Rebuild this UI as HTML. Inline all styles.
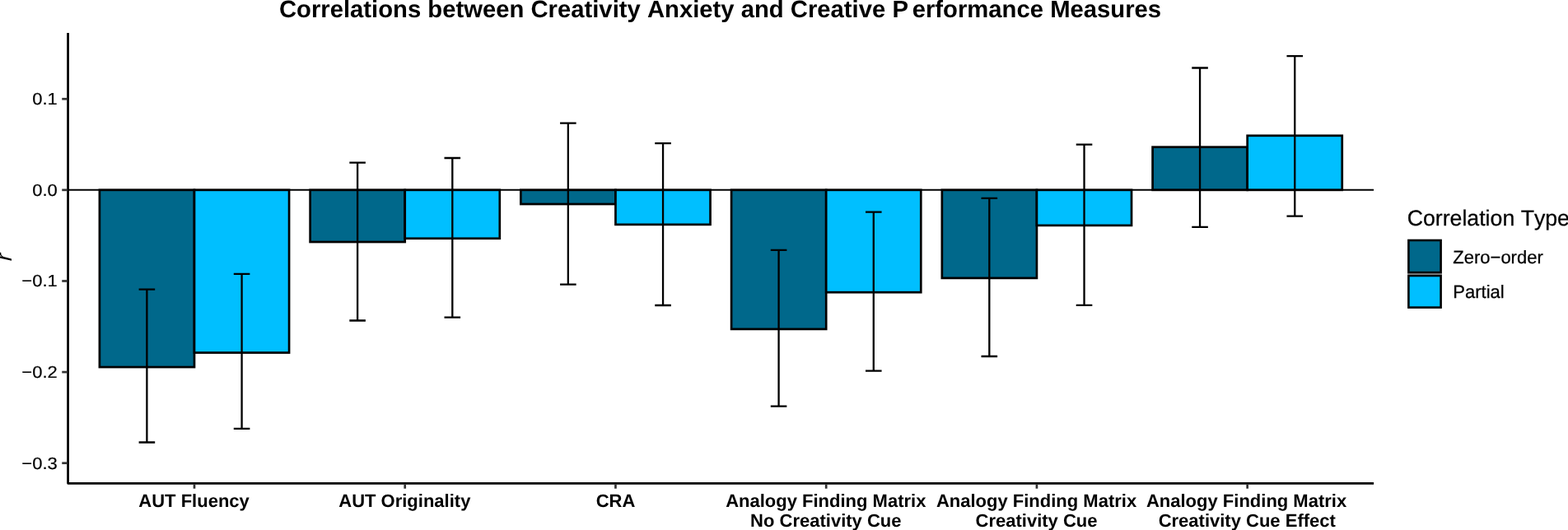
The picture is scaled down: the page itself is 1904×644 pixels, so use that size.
<!DOCTYPE html>
<html lang="en"><head><meta charset="utf-8"><title>Correlations between Creativity Anxiety and Creative Performance Measures</title>
<style>
html,body{margin:0;padding:0;background:#fff;}
body{width:1904px;height:644px;overflow:hidden;}
svg{display:block;font-kerning:none;text-rendering:geometricPrecision;font-family:"Liberation Sans",Arial,Helvetica,sans-serif;}
.t{font-weight:bold;font-size:29.25px;fill:#000;}
.xl{font-weight:bold;font-size:22px;fill:#000;text-anchor:middle;}
.yl{font-size:22px;fill:#000;text-anchor:end;stroke:#000;stroke-width:0.2px;}
.lg{font-size:22px;fill:#000;stroke:#000;stroke-width:0.25px;}
.lt{font-size:26.7px;fill:#000;stroke:#000;stroke-width:0.25px;}
.bar{stroke:#000;stroke-width:2.7;stroke-linejoin:miter;}
.eb{stroke:#000;stroke-width:2.3;fill:none;}
.ax{stroke:#000;stroke-width:2.7;fill:none;stroke-linecap:butt;}
.tk{stroke:#333;stroke-width:2.7;fill:none;}
</style></head><body>
<svg width="1904" height="644" viewBox="0 0 1904 644">
<rect width="1904" height="644" fill="#fff"/>
<text class="t" x="338.9" y="20.5">Correlations between Creativity Anxiety and Creative P<tspan dx="4.8">erformance Measures</tspan></text>
<rect class="bar" x="120.91" y="230.85" width="115.08" height="215.20" fill="#00688B"/>
<rect class="bar" x="235.99" y="230.85" width="115.08" height="197.70" fill="#00BFFF"/>
<rect class="bar" x="376.64" y="230.85" width="115.08" height="63.15" fill="#00688B"/>
<rect class="bar" x="491.72" y="230.85" width="115.08" height="58.90" fill="#00BFFF"/>
<rect class="bar" x="632.38" y="230.85" width="115.08" height="17.15" fill="#00688B"/>
<rect class="bar" x="747.46" y="230.85" width="115.08" height="42.00" fill="#00BFFF"/>
<rect class="bar" x="888.11" y="230.85" width="115.08" height="169.05" fill="#00688B"/>
<rect class="bar" x="1003.19" y="230.85" width="115.08" height="124.35" fill="#00BFFF"/>
<rect class="bar" x="1143.85" y="230.85" width="115.08" height="107.05" fill="#00688B"/>
<rect class="bar" x="1258.93" y="230.85" width="115.08" height="43.05" fill="#00BFFF"/>
<rect class="bar" x="1399.58" y="178.70" width="115.08" height="52.15" fill="#00688B"/>
<rect class="bar" x="1514.66" y="164.80" width="115.08" height="66.05" fill="#00BFFF"/>
<line x1="82.55" x2="1668.1" y1="230.85" y2="230.85" stroke="#000" stroke-width="2"/>
<path class="eb" d="M168.59 351.60H188.19M178.39 351.60V537.50M168.59 537.50H188.19"/>
<path class="eb" d="M283.79 332.80H303.39M293.59 332.80V520.80M283.79 520.80H303.39"/>
<path class="eb" d="M424.32 197.70H443.92M434.12 197.70V389.50M424.32 389.50H443.92"/>
<path class="eb" d="M539.52 192.00H559.12M549.32 192.00V385.70M539.52 385.70H559.12"/>
<path class="eb" d="M680.06 149.60H699.66M689.86 149.60V345.60M680.06 345.60H699.66"/>
<path class="eb" d="M795.26 174.20H814.86M805.06 174.20V371.00M795.26 371.00H814.86"/>
<path class="eb" d="M935.79 303.90H955.39M945.59 303.90V493.65M935.79 493.65H955.39"/>
<path class="eb" d="M1050.99 257.60H1070.59M1060.79 257.60V450.70M1050.99 450.70H1070.59"/>
<path class="eb" d="M1191.53 240.90H1211.13M1201.33 240.90V433.00M1191.53 433.00H1211.13"/>
<path class="eb" d="M1306.73 175.70H1326.33M1316.53 175.70V370.90M1306.73 370.90H1326.33"/>
<path class="eb" d="M1447.26 82.50H1466.86M1457.06 82.50V275.90M1447.26 275.90H1466.86"/>
<path class="eb" d="M1562.46 68.10H1582.06M1572.26 68.10V262.60M1562.46 262.60H1582.06"/>
<path class="ax" stroke-linejoin="round" d="M82.55 40.0V587.3H1668.1"/>
<path class="tk" d="M75.25 120.23H81.25"/>
<text class="yl" transform="translate(69.8 127.23) scale(1 0.92)">0.1</text>
<path class="tk" d="M75.25 230.85H81.25"/>
<text class="yl" transform="translate(69.8 237.85) scale(1 0.92)">0.0</text>
<path class="tk" d="M75.25 341.47H81.25"/>
<text class="yl" transform="translate(69.8 348.47) scale(1 0.92)">−0.1</text>
<path class="tk" d="M75.25 452.09H81.25"/>
<text class="yl" transform="translate(69.8 459.09) scale(1 0.92)">−0.2</text>
<path class="tk" d="M75.25 562.71H81.25"/>
<text class="yl" transform="translate(69.8 569.71) scale(1 0.92)">−0.3</text>
<path class="tk" d="M235.99 588.60V593.70"/>
<text class="xl" x="235.59" y="615.80">AUT Fluency</text>
<path class="tk" d="M491.72 588.60V593.70"/>
<text class="xl" x="491.32" y="615.80">AUT Originality</text>
<path class="tk" d="M747.46 588.60V593.70"/>
<text class="xl" x="747.56" y="615.80">CRA</text>
<path class="tk" d="M1003.19 588.60V593.70"/>
<text class="xl" x="1002.79" y="615.80">Analogy Finding Matrix</text>
<text class="xl" x="1002.79" y="640.10">No Creativity Cue</text>
<path class="tk" d="M1258.93 588.60V593.70"/>
<text class="xl" x="1258.53" y="615.80">Analogy Finding Matrix</text>
<text class="xl" x="1258.53" y="640.10">Creativity Cue</text>
<path class="tk" d="M1514.66 588.60V593.70"/>
<text class="xl" x="1513.56" y="615.80">Analogy Finding Matrix</text>
<text class="xl" x="1514.26" y="640.10">Creativity Cue Effect</text>
<text transform="translate(14.2,312.7) rotate(-90) skewX(-2.5)" font-style="italic" font-size="27.5" text-anchor="middle" fill="#000">r</text>
<text class="lt" x="1708.7" y="273.8">Correlation Type</text>
<rect class="bar" style="stroke-width:2.6" x="1710.4" y="292.0" width="39.2" height="39.1" fill="#00688B"/>
<rect class="bar" style="stroke-width:2.6" x="1710.4" y="335.0" width="39.2" height="38.6" fill="#00BFFF"/>
<rect x="1709.1" y="332.1" width="41.8" height="1.6" fill="#666"/>
<text class="lg" x="1764.3" y="319.6">Zero−order</text>
<text class="lg" x="1764.3" y="361.5">Partial</text>
</svg></body></html>
